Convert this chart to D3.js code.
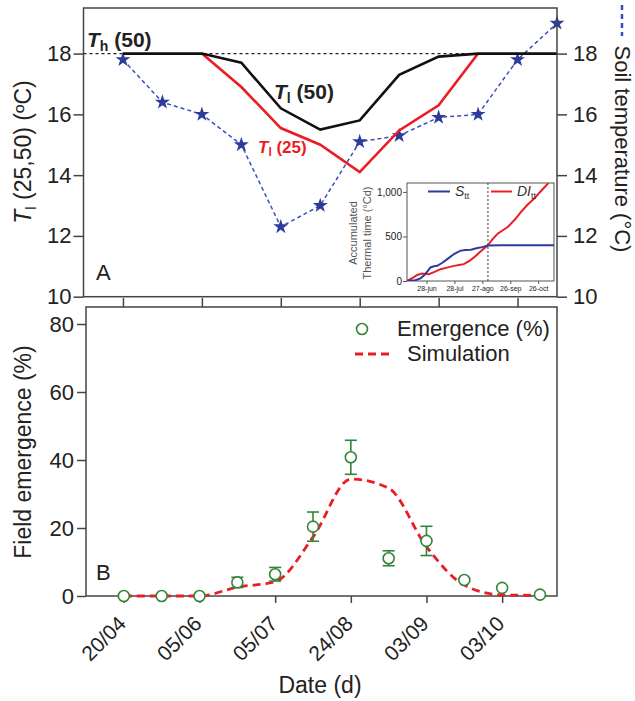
<!DOCTYPE html>
<html><head><meta charset="utf-8">
<script src="https://cdn.jsdelivr.net/npm/d3@7"></script>
<style>
body{margin:0;background:#fff}
text{font-family:"Liberation Sans",Arial,sans-serif;fill:#222}
</style></head>
<body><svg id="c" width="635" height="701"></svg>
<script>
// ---------------- DATA ----------------
const samples = [1,2,3,4,5,6,7,8,9,10,11,12];
const tickSamples = [1,3,5,7,9,11];
const dateLabels = ["20/04","05/06","05/07","24/08","03/09","03/10"];

// Panel A
const tl50 = [18,18,18,17.7,16.2,15.5,15.8,17.3,17.9,18,18,18];
const tl25Samples = [3,4,5,6,7,8,9,10];
const tl25 = [18,16.9,15.55,15.0,14.1,15.47,16.3,18];
const soilTemp = [17.8,16.4,16.0,15.0,12.3,13.0,15.1,15.3,15.9,16.0,17.8,19.0];
const th50 = 18;
const leftTicks = [10,12,14,16,18];

// Inset (days from 28-jun)
const insetTickDays = [0,30,60,90,120];
const insetTickLabels = ["28-jun","28-jul","27-ago","26-sep","26-oct"];
const insetYTicks = [0,500,1000];
const sttDay = [-21,-12,-6.5,-2,4.3,8,11.5,17,22.3,29.5,33,36.8,42,47.6,54.8,60,65.6,80,137];
const sttVal = [0,8,30,70,152,165,170,205,246,303,322,341,348,352,371,380,398,400,400];
const diDay = [-21,-14,-10,-5,2.5,8,15,22,29.5,35,40,46,51,58,65.6,71,76.4,82,87.2,95,101.6,108,116,123,131];
const diVal = [0,40,68,83,76,100,133,150,170,180,189,225,265,330,398,470,530,570,606,690,777,850,928,1010,1100];
const insetMarkDay = 66;

// Panel B
const emergence = [0,0,0,4.0,6.4,20.4,40.8,11.1,16.2,4.7,2.4,0.4];
const emergenceErr = [0,0,0,1.5,2.0,4.3,5.0,2.2,4.3,0,0,0];
const simulation = [0,0,0,2.6,4.2,17.3,34.4,31.7,14.5,3.2,0.3,0.2];
const bottomTicks = [0,20,40,60,80];

// ---------------- DRAW ----------------
const svg = d3.select("#c");
const RED = "#ec1c24", BLACK = "#111", BLUE = "#2d3c9a", BLUED = "#3a4fbf", GREEN = "#35823a", FRAME = "#444";

// ===== Panel A =====
const xA = d3.scaleLinear().domain([0,12]).range([83.5,557]);
const yA = d3.scaleLinear().domain([10,19.5]).range([296.7,8]);

svg.append("line").attr("x1",xA(0)).attr("x2",xA(12)).attr("y1",yA(th50)).attr("y2",yA(th50))
  .attr("stroke","#222").attr("stroke-width",1.3).attr("stroke-dasharray","3,3");

svg.append("path").datum(samples.map((s,i)=>[s,soilTemp[i]]))
  .attr("d",d3.line().x(d=>xA(d[0])).y(d=>yA(d[1])))
  .attr("fill","none").attr("stroke",BLUED).attr("stroke-width",1.5).attr("stroke-dasharray","4,3");
svg.append("g").selectAll("path").data(samples.map((s,i)=>[s,soilTemp[i]])).join("path")
  .attr("transform",d=>`translate(${xA(d[0])},${yA(d[1])})`)
  .attr("d",d3.symbol(d3.symbolStar,70)).attr("fill",BLUE);

svg.append("path").datum(tl25Samples.map((s,i)=>[s,tl25[i]]))
  .attr("d",d3.line().x(d=>xA(d[0])).y(d=>yA(d[1])))
  .attr("fill","none").attr("stroke",RED).attr("stroke-width",2.6);
svg.append("path").datum(samples.map((s,i)=>[s,tl50[i]]))
  .attr("d",d3.line().x(d=>xA(d[0])).y(d=>yA(d[1])))
  .attr("fill","none").attr("stroke",BLACK).attr("stroke-width",2.6);

svg.append("rect").attr("x",xA(0)).attr("y",yA(19.5)).attr("width",xA(12)-xA(0)).attr("height",yA(10)-yA(19.5))
  .attr("fill","none").attr("stroke",FRAME).attr("stroke-width",1.5);

function styleAxis(g){ g.select(".domain").remove(); g.selectAll(".tick line").attr("stroke",FRAME).attr("stroke-width",1.5); }
svg.append("g").attr("transform",`translate(${xA(0)},0)`)
  .call(d3.axisLeft(yA).tickValues(leftTicks).tickSize(10).tickPadding(2).tickFormat(d3.format("d")))
  .call(styleAxis).selectAll("text").attr("font-size",22).attr("fill","#222").attr("font-family","Liberation Sans, Arial, sans-serif");
svg.append("g").attr("transform",`translate(${xA(12)},0)`)
  .call(d3.axisRight(yA).tickValues(leftTicks).tickSize(10).tickPadding(6).tickFormat(d3.format("d")))
  .call(styleAxis).selectAll("text").attr("font-size",22).attr("fill","#222").attr("font-family","Liberation Sans, Arial, sans-serif");
svg.append("g").attr("transform",`translate(0,307)`)
  .call(d3.axisTop(xA).tickValues(tickSamples).tickSize(9).tickFormat(""))
  .call(styleAxis);

const th = svg.append("text").attr("x",87).attr("y",47).attr("font-size",21).attr("font-weight","bold").attr("fill","#111");
th.append("tspan").attr("font-style","italic").text("T");
th.append("tspan").attr("font-size",14).attr("dy",4).text("h");
th.append("tspan").attr("dy",-4).text(" (50)");

const t50 = svg.append("text").attr("x",274).attr("y",99).attr("font-size",21).attr("font-weight","bold").attr("fill","#111");
t50.append("tspan").attr("font-style","italic").text("T");
t50.append("tspan").attr("font-size",14).attr("dy",4).text("l");
t50.append("tspan").attr("dy",-4).text(" (50)");

const t25 = svg.append("text").attr("x",258).attr("y",153).attr("font-size",17).attr("font-weight","bold").style("fill",RED);
t25.append("tspan").attr("font-style","italic").text("T");
t25.append("tspan").attr("font-size",12).attr("dy",3).text("l");
t25.append("tspan").attr("dy",-3).text(" (25)");

svg.append("text").attr("x",96).attr("y",280).attr("font-size",22).text("A");

const ltA = svg.append("text").attr("transform","translate(31,152) rotate(-90)").attr("text-anchor","middle").attr("font-size",23);
ltA.append("tspan").attr("font-style","italic").text("T");
ltA.append("tspan").attr("font-size",15).attr("dy",5).text("l");
ltA.append("tspan").attr("dy",-5).text(" (25,50) (ºC)");

svg.append("text").attr("transform","translate(615,149) rotate(90)").attr("text-anchor","middle").attr("font-size",22).text("Soil temperature (°C)");
svg.append("line").attr("x1",622).attr("x2",622).attr("y1",5).attr("y2",36).attr("stroke",BLUED).attr("stroke-width",2.5).attr("stroke-dasharray","5,4");

// ===== Inset =====
const xI = d3.scaleLinear().domain([-21,137]).range([407,554]);
const yI = d3.scaleLinear().domain([0,1100]).range([281,183]);
svg.append("rect").attr("x",xI(-21)).attr("y",yI(1100)).attr("width",xI(137)-xI(-21)).attr("height",yI(0)-yI(1100))
  .attr("fill","#fff").attr("stroke","#555").attr("stroke-width",1);
svg.append("clipPath").attr("id","ic").append("rect")
  .attr("x",xI(-21)).attr("y",yI(1100)).attr("width",xI(137)-xI(-21)).attr("height",yI(0)-yI(1100));
svg.append("line").attr("x1",xI(insetMarkDay)).attr("x2",xI(insetMarkDay)).attr("y1",yI(1100)).attr("y2",yI(0))
  .attr("stroke","#333").attr("stroke-width",1).attr("stroke-dasharray","2,2");
const gi = svg.append("g").attr("clip-path","url(#ic)");
gi.append("path").datum(diDay.map((d,i)=>[d,diVal[i]]))
  .attr("d",d3.line().x(d=>xI(d[0])).y(d=>yI(d[1])))
  .attr("fill","none").attr("stroke",RED).attr("stroke-width",2);
gi.append("path").datum(sttDay.map((d,i)=>[d,sttVal[i]]))
  .attr("d",d3.line().x(d=>xI(d[0])).y(d=>yI(d[1])))
  .attr("fill","none").attr("stroke","#2b3a9c").attr("stroke-width",2);
const gix = svg.append("g").attr("transform",`translate(0,${yI(0)})`)
  .call(d3.axisBottom(xI).tickValues(insetTickDays).tickSize(3).tickPadding(2).tickFormat((d,i)=>insetTickLabels[i]));
gix.select(".domain").remove();
gix.selectAll(".tick line").attr("stroke","#555");
gix.selectAll("text").attr("font-size",7).attr("fill","#555");
const giy = svg.append("g").attr("transform",`translate(${xI(-21)},0)`)
  .call(d3.axisLeft(yI).tickValues(insetYTicks).tickSize(4).tickPadding(1));
giy.select(".domain").remove();
giy.selectAll(".tick line").attr("stroke","#555");
giy.selectAll("text").attr("font-size",10).attr("fill","#555");
svg.append("text").attr("transform","translate(357,233) rotate(-90)").attr("text-anchor","middle").attr("font-size",11).style("fill","#555").text("Accumulated");
svg.append("text").attr("transform","translate(371,233) rotate(-90)").attr("text-anchor","middle").attr("font-size",11).style("fill","#555").text("Thermal time (°Cd)");
svg.append("line").attr("x1",428).attr("x2",450).attr("y1",191.5).attr("y2",191.5).attr("stroke","#2b3a9c").attr("stroke-width",2);
const ls = svg.append("text").attr("x",455).attr("y",196).attr("font-size",14).style("fill","#333");
ls.append("tspan").attr("font-style","italic").text("S");
ls.append("tspan").attr("font-size",9).attr("dy",3).text("tt");
svg.append("line").attr("x1",491).attr("x2",512).attr("y1",191.5).attr("y2",191.5).attr("stroke",RED).attr("stroke-width",2);
const ld = svg.append("text").attr("x",517).attr("y",196).attr("font-size",14).style("fill","#333");
ld.append("tspan").attr("font-style","italic").text("DI");
ld.append("tspan").attr("font-size",9).attr("dy",3).text("tt");

// ===== Panel B =====
const xB = d3.scaleLinear().domain([0,12.45]).range([86,557]);
const yB = d3.scaleLinear().domain([0,85]).range([596,307]);

svg.append("rect").attr("x",xB(0)).attr("y",yB(85)).attr("width",xB(12.45)-xB(0)).attr("height",yB(0)-yB(85))
  .attr("fill","none").attr("stroke",FRAME).attr("stroke-width",1.5);

const gyB = svg.append("g").attr("transform",`translate(${xB(0)},0)`)
  .call(d3.axisLeft(yB).tickValues(bottomTicks).tickSize(9).tickPadding(3))
  .call(styleAxis);
gyB.selectAll("text").attr("font-size",22).attr("fill","#222");

const gxB = svg.append("g").attr("transform",`translate(0,${yB(0)})`)
  .call(d3.axisBottom(xB).tickValues(tickSamples).tickSize(7).tickFormat((d,i)=>dateLabels[i]))
  .call(styleAxis);
gxB.selectAll("text").attr("font-size",21).attr("fill","#222")
  .attr("text-anchor","end").attr("dy",null).attr("y",null)
  .attr("transform","translate(3,29) rotate(-45)");

svg.append("path").datum(samples.map((s,i)=>[s,simulation[i]]))
  .attr("d",d3.line().curve(d3.curveMonotoneX).x(d=>xB(d[0])).y(d=>yB(d[1])))
  .attr("fill","none").attr("stroke",RED).attr("stroke-width",2.8).attr("stroke-dasharray","8,5");

const eb = svg.append("g").attr("stroke",GREEN).attr("stroke-width",1.6);
samples.forEach((s,i)=>{
  if(emergenceErr[i]>0){
    const x = xB(s), y1 = yB(emergence[i]+emergenceErr[i]), y2 = yB(emergence[i]-emergenceErr[i]);
    eb.append("line").attr("x1",x).attr("x2",x).attr("y1",y1).attr("y2",y2);
    eb.append("line").attr("x1",x-6).attr("x2",x+6).attr("y1",y1).attr("y2",y1);
    eb.append("line").attr("x1",x-6).attr("x2",x+6).attr("y1",y2).attr("y2",y2);
  }
});
svg.append("g").selectAll("circle").data(samples.map((s,i)=>[s,emergence[i]])).join("circle")
  .attr("cx",d=>xB(d[0])).attr("cy",d=>yB(d[1])).attr("r",5.5)
  .attr("fill","#fff").attr("stroke",GREEN).attr("stroke-width",1.6);

svg.append("text").attr("x",96).attr("y",580).attr("font-size",22).text("B");

svg.append("circle").attr("cx",362).attr("cy",329).attr("r",5.5).attr("fill","#fff").attr("stroke",GREEN).attr("stroke-width",1.6);
svg.append("text").attr("x",397).attr("y",336).attr("font-size",22).text("Emergence (%)");
svg.append("line").attr("x1",355).attr("x2",390).attr("y1",354).attr("y2",354).attr("stroke",RED).attr("stroke-width",2.8).attr("stroke-dasharray","8,5");
svg.append("text").attr("x",407).attr("y",361).attr("font-size",22).text("Simulation");

svg.append("text").attr("transform","translate(31,452) rotate(-90)").attr("text-anchor","middle").attr("font-size",23).text("Field emergence (%)");
svg.append("text").attr("x",320).attr("y",693).attr("text-anchor","middle").attr("font-size",23).text("Date (d)");
</script></body></html>
